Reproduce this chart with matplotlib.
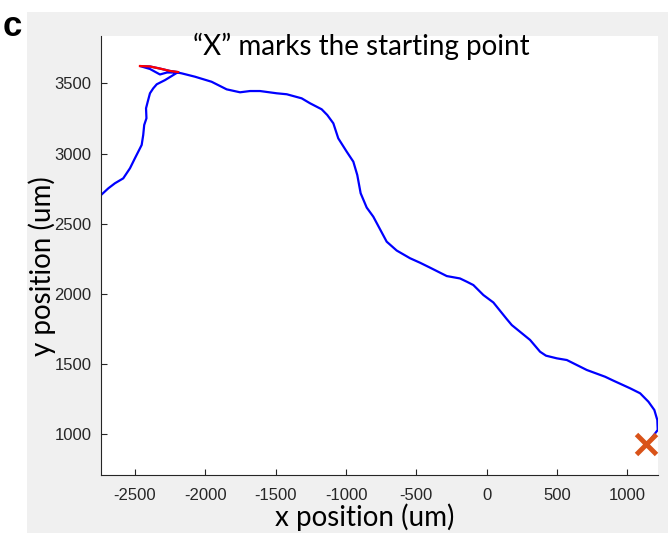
import numpy as np
import matplotlib
matplotlib.use("Agg")
import matplotlib.pyplot as plt
from matplotlib.patches import Rectangle

plt.rcParams["font.family"] = ["Liberation Sans", "DejaVu Sans"]
plt.rcParams["axes.unicode_minus"] = False

# cell track, from the start point (bottom right) to the far left edge
track_x = [1140, 1215, 1212, 1191, 1149, 1090, 1018, 900, 841, 711, 569, 498,
           421, 379, 308, 178, 142, 47, -24, -95, -142, -190, -284, -403,
           -474, -545, -640, -711, -806, -853, -896, -920, -948, -995, -1055,
           -1090, -1133, -1173, -1256, -1315, -1421, -1493, -1611, -1682,
           -1753, -1848, -1955, -2073, -2168, -2198,
           -2272, -2322, -2393, -2464, -2393, -2322, -2251, -2193,
           -2286, -2345, -2370, -2393, -2409, -2421, -2418, -2434, -2441,
           -2452, -2464, -2500, -2535, -2583, -2642, -2689, -2741]
track_y = [931, 1031, 1102, 1173, 1232, 1292, 1328, 1382, 1410, 1458, 1529,
           1541, 1560, 1588, 1672, 1778, 1821, 1939, 1992, 2063, 2087, 2110,
           2127, 2187, 2222, 2254, 2309, 2372, 2550, 2615, 2717, 2847, 2942,
           3013, 3108, 3215, 3274, 3315, 3358, 3393, 3422, 3429, 3445, 3445,
           3436, 3457, 3511, 3547, 3571, 3577,
           3577, 3563, 3602, 3623, 3620, 3605, 3588, 3580,
           3523, 3493, 3464, 3429, 3369, 3322, 3251, 3203, 3132, 3061, 3037,
           2966, 2895, 2823, 2788, 2752, 2704]

# highlighted stretch near the top
red_x = [-2464, -2393, -2322, -2251, -2193]
red_y = [3623, 3620, 3605, 3588, 3580]

start_x, start_y = 1135, 928

xticks = [-2500, -2000, -1500, -1000, -500, 0, 500, 1000]
yticks = [1000, 1500, 2000, 2500, 3000, 3500]

W, H = 668, 533
fig = plt.figure(figsize=(W / 100, H / 100), dpi=100, facecolor="white")
fig.patches.append(Rectangle((27 / W, 0), 1 - 27 / W, 1 - 12 / H,
                             transform=fig.transFigure, facecolor="#f0f0f0",
                             edgecolor="none", zorder=-10))

ax = fig.add_axes([101 / W, (H - 475) / H, 557 / W, 439 / H])
ax.set_facecolor("white")

ax.plot(track_x, track_y, color="#0000ff", lw=1.6, solid_joinstyle="round")
ax.plot(red_x, red_y, color="#ff0000", lw=1.6)
ax.plot(start_x, start_y, marker="x", color="#d95319", ms=15, mew=3.5,
        linestyle="none")

ax.set_xlim(min(track_x), max(track_x) + 2)
ax.set_ylim(710, 3837)

for s in ["top", "right"]:
    ax.spines[s].set_visible(False)
for s in ["left", "bottom"]:
    ax.spines[s].set_color("#262626")
    ax.spines[s].set_linewidth(0.8)

ax.set_xticks(xticks)
ax.set_yticks(yticks)
ax.tick_params(direction="in", length=4, width=0.8, color="#262626",
               labelcolor="#262626", labelsize=12)
ax.tick_params(axis="x", pad=9)
ax.tick_params(axis="y", pad=7)

fig.text(365 / W, 1 - 526 / H, "x position (um)", ha="center", va="baseline",
         fontsize=20, family="Lato", color="black")
fig.text(42 / W, 1 - 266 / H, "y position (um)", ha="center", va="center",
         rotation=90, fontsize=20, family="Lato", color="black")
fig.text(361 / W, 1 - 55 / H, "\u201cX\u201d marks the starting point",
         ha="center", va="baseline", fontsize=20, family="Lato", color="black")
fig.text(3 / W, 1 - 36 / H, "c", ha="left", va="baseline", fontsize=25,
         fontweight="bold", color="black")

fig.savefig("out.png", dpi=100, facecolor=fig.get_facecolor())
